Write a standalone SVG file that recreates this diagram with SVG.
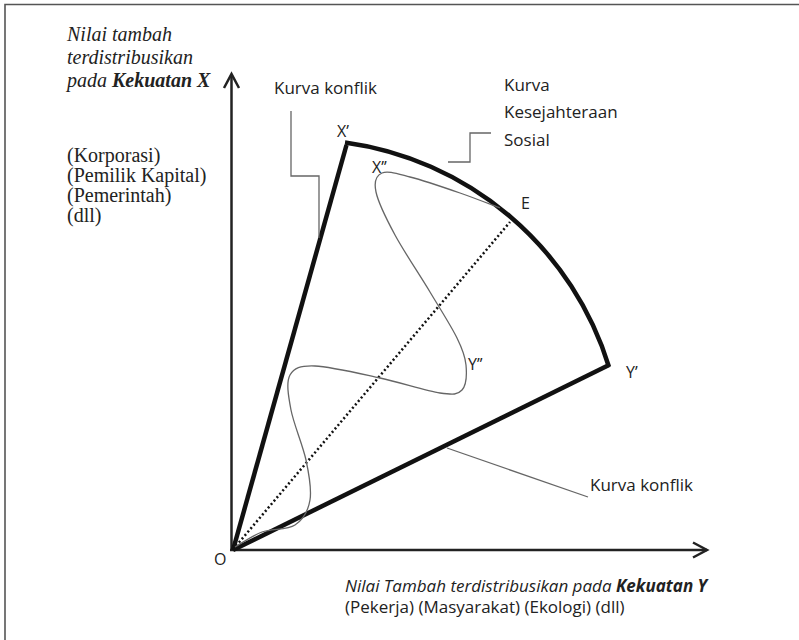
<svg xmlns="http://www.w3.org/2000/svg" width="799" height="640" viewBox="0 0 799 640">
<style>
.serif{font-family:"Liberation Serif","Times New Roman",serif;font-size:20px;fill:#222}
.it{font-style:italic}
.sans{font-family:"Open Sans","Liberation Sans",sans-serif;font-size:17px;fill:#222}
.lbl{font-family:"Open Sans","Liberation Sans",sans-serif;font-size:16px;fill:#222}
.thick{fill:none;stroke:#111;stroke-width:4.5;stroke-linecap:butt}
.axis{fill:none;stroke:#222;stroke-width:2.5}
.lead{fill:none;stroke:#666;stroke-width:1.3}
.thin{fill:none;stroke:#666;stroke-width:1.3}
.dot{fill:none;stroke:#111;stroke-width:2.5;stroke-dasharray:2 2.5}
</style>
<rect width="799" height="640" fill="#fff"/>
<path d="M5,640 V4.5 H799" fill="none" stroke="#555" stroke-width="1.6"/>

<g id="axes">
<path class="axis" d="M231.5,551 V74"/>
<path class="axis" d="M224,88 L231.5,74 L239,88"/>
<path class="axis" d="M230,550 H707"/>
<path class="axis" d="M693,542.5 L707,550 L693,557.5"/>
</g>

<g id="conflict-curve-x"><path class="thick" d="M233,550 L346.5,145"/></g>
<g id="conflict-curve-y"><path class="thick" d="M233,550 L609,365"/></g>
<g id="welfare-curve"><path class="thick" d="M345,142.5 A322,322 0 0 1 609,367"/></g>

<g id="connectors">
<path class="dot" d="M236,546 L510,222"/>
<path class="thin" d="M235,547 C239.5,544.5 252,535.7 262,532 C272,528.3 287,530.3 295,525 C303,519.7 308.2,510.8 310,500 C311.8,489.2 309.2,475 306,460 C302.8,445 293.7,424.2 291,410 C288.3,395.8 286,382.3 290,375 C294,367.7 300,365.5 315,366 C330,366.5 359.2,373.5 380,378 C400.8,382.5 426.3,391 440,393 C453.7,395 457.7,394.7 462,390 C466.3,385.3 466.8,373.7 466,365 C465.2,356.3 463,350.2 457,338 C451,325.8 440.3,309.2 430,292 C419.7,274.8 404,251.7 395,235 C386,218.3 378.2,202.3 376,192 C373.8,181.7 376.3,175.5 382,173 C387.7,170.5 397,173.7 410,177 C423,180.3 445,187.8 460,193 C475,198.2 493.3,205.5 500,208"/>
<path class="lead" d="M291,111 V176 H319 V238"/>
<path class="lead" d="M491,133 H470 V162 H448"/>
<path class="lead" d="M447,448 L588,497"/>
</g>

<g id="y-axis-label">
<text class="serif it" x="67" y="41">Nilai tambah</text>
<text class="serif it" x="67" y="64">terdistribusikan</text>
<text class="serif it" x="67" y="87">pada <tspan font-weight="bold">Kekuatan X</tspan></text>
<text class="serif" x="67" y="162">(Korporasi)</text>
<text class="serif" x="67" y="182">(Pemilik Kapital)</text>
<text class="serif" x="67" y="202">(Pemerintah)</text>
<text class="serif" x="67" y="222">(dll)</text>
</g>

<g id="x-axis-label">
<text class="sans" x="345" y="592" font-style="italic">Nilai Tambah terdistribusikan pada <tspan font-weight="bold">Kekuatan Y</tspan></text>
<text class="sans" x="345" y="613">(Pekerja) (Masyarakat) (Ekologi) (dll)</text>
</g>

<g id="label-kurva-konflik-top"><text class="sans" x="274" y="94">Kurva konflik</text></g>
<g id="label-kurva-kesejahteraan">
<text class="sans" x="504" y="91">Kurva</text>
<text class="sans" x="504" y="118">Kesejahteraan</text>
<text class="sans" x="504" y="146">Sosial</text>
</g>
<g id="label-kurva-konflik-bottom"><text class="sans" x="590" y="491">Kurva konflik</text></g>

<g id="point-labels">
<text class="lbl" x="337" y="137">X’</text>
<text class="lbl" x="372" y="173">X’’</text>
<text class="lbl" x="521" y="209">E</text>
<text class="lbl" x="468" y="370">Y’’</text>
<text class="lbl" x="626" y="378">Y’</text>
<text class="lbl" x="214" y="565">O</text>
</g>
</svg>
